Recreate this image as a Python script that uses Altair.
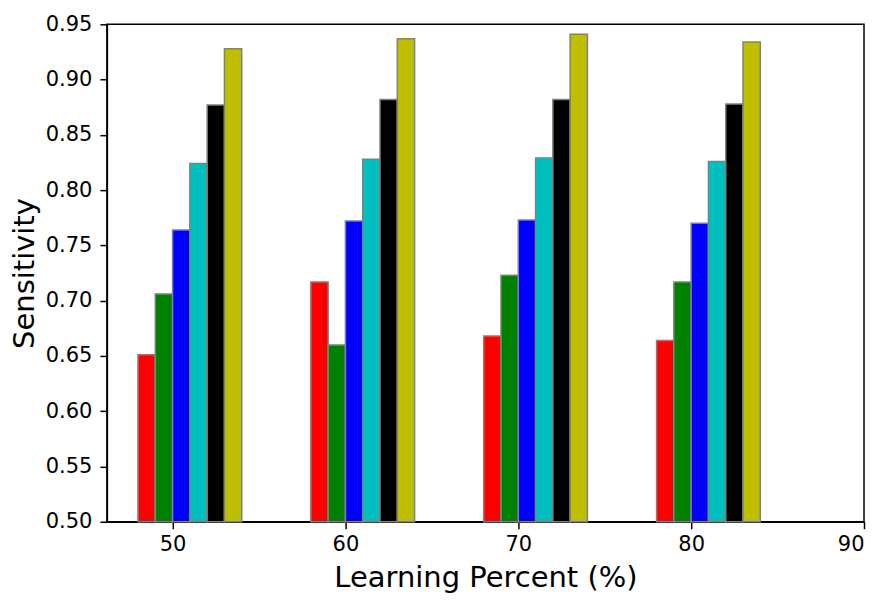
import altair as alt
import pandas as pd

groups = [50, 60, 70, 80]
series = ["S1", "S2", "S3", "S4", "S5", "S6"]
colors = ["#ff0000", "#008000", "#0000ff", "#00bfbf", "#000000", "#bfbf00"]
values = {
    "S1": [0.651, 0.717, 0.668, 0.664],
    "S2": [0.706, 0.660, 0.723, 0.717],
    "S3": [0.764, 0.772, 0.773, 0.770],
    "S4": [0.824, 0.828, 0.829, 0.826],
    "S5": [0.877, 0.882, 0.882, 0.878],
    "S6": [0.928, 0.937, 0.941, 0.934],
}
x_ticks = [50, 60, 70, 80, 90]
y_ticks = [0.50, 0.55, 0.60, 0.65, 0.70, 0.75, 0.80, 0.85, 0.90, 0.95]

rows = []
for si, s in enumerate(series):
    for gi, g in enumerate(groups):
        rows.append({"group": g, "idx": si, "series": s, "value": values[s][gi]})
df = pd.DataFrame(rows)

chart = (
    alt.Chart(df)
    .transform_calculate(x0="datum.group - 2 + datum.idx", x1="datum.group - 1 + datum.idx")
    .mark_rect(stroke="#808080", strokeWidth=1.5)
    .encode(
        x=alt.X(
            "x0:Q",
            scale=alt.Scale(domain=[46.2, 90], nice=False, zero=False),
            axis=alt.Axis(values=x_ticks, format="d", title="Learning Percent (%)", grid=False),
        ),
        x2="x1:Q",
        y=alt.Y(
            "value:Q",
            scale=alt.Scale(domain=[0.5, 0.95], nice=False, zero=False),
            axis=alt.Axis(values=y_ticks, format=".2f", title="Sensitivity", grid=False),
        ),
        y2=alt.datum(0.5),
        fill=alt.Fill("series:N", scale=alt.Scale(domain=series, range=colors), legend=None),
    )
    .properties(
        width=758,
        height=498,
        autosize=alt.AutoSizeParams(type="none"),
        padding={"left": 99, "top": 16, "right": 16, "bottom": 80},
    )
    .configure(font="DejaVu Sans")
    .configure_view(stroke="black", strokeWidth=1.5)
    .configure_axis(
        domainColor="black",
        domainWidth=1.5,
        tickColor="black",
        tickWidth=1.5,
        tickSize=7,
        labelFont="DejaVu Sans",
        labelFontSize=21,
        labelColor="black",
        titleFont="DejaVu Sans",
        titleFontSize=29,
        titleFontWeight="normal",
        titleColor="black",
    )
    .configure_axisX(labelPadding=5, titlePadding=9)
    .configure_axisY(labelPadding=8, titlePadding=6)
)

chart.save("out.html", embed_options={"renderer": "svg", "actions": False})
